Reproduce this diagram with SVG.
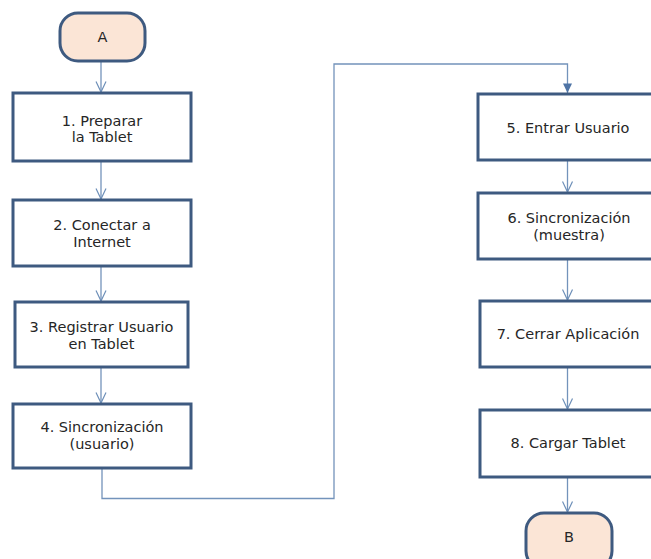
<svg xmlns="http://www.w3.org/2000/svg" width="651" height="559" viewBox="0 0 651 559">
  <defs>
    <marker id="open" viewBox="0 0 12 12" refX="11.5" refY="6" markerWidth="12" markerHeight="12" markerUnits="userSpaceOnUse" orient="auto">
      <path d="M1,1 L11.5,6 L1,11" fill="none" stroke="#6d8fb8" stroke-width="1.2"/>
    </marker>
    <marker id="solid" viewBox="0 0 10 10" refX="10" refY="5" markerWidth="10" markerHeight="10" markerUnits="userSpaceOnUse" orient="auto">
      <path d="M0.5,0.5 L10,5 L0.5,9.5 Z" fill="#4f74a5"/>
    </marker>
    <style>
      .box { fill: #ffffff; stroke: #3e5a80; stroke-width: 3; }
      .term { fill: #fbe5d6; stroke: #3e5a80; stroke-width: 3; }
      .lbl { font-family: "DejaVu Sans", Verdana, sans-serif; font-size: 14.5px; fill: #262626; text-anchor: middle; }
      .flow { fill: none; stroke: #7393bb; stroke-width: 1.3; }
    </style>
  </defs>
  <rect width="651" height="559" fill="#ffffff"/>

  <!-- connectors -->
  <g id="connectors">
    <line class="flow" x1="101" y1="61" x2="101" y2="92" marker-end="url(#open)"/>
    <line class="flow" x1="101" y1="162" x2="101" y2="199" marker-end="url(#open)"/>
    <line class="flow" x1="101" y1="267" x2="101" y2="301" marker-end="url(#open)"/>
    <line class="flow" x1="101" y1="368" x2="101" y2="403" marker-end="url(#open)"/>
    <polyline class="flow" points="102,469 102,498.5 334,498.5 334,64 567.5,64 567.5,93" marker-end="url(#solid)"/>
    <line class="flow" x1="567.5" y1="161" x2="567.5" y2="192" marker-end="url(#open)"/>
    <line class="flow" x1="567.5" y1="260" x2="567.5" y2="300" marker-end="url(#open)"/>
    <line class="flow" x1="567.5" y1="368" x2="567.5" y2="409" marker-end="url(#open)"/>
    <line class="flow" x1="567.5" y1="478" x2="567.5" y2="512" marker-end="url(#open)"/>
  </g>

  <!-- start terminal -->
  <g id="term-A">
    <rect class="term" x="60" y="13" width="85" height="48" rx="18"/>
    <text class="lbl" x="102.5" y="42">A</text>
  </g>

  <!-- left column -->
  <g id="step-1">
    <rect class="box" x="13" y="93" width="178" height="68"/>
    <text class="lbl" x="102" y="126">1. Preparar</text>
    <text class="lbl" x="102" y="142">la Tablet</text>
  </g>
  <g id="step-2">
    <rect class="box" x="13" y="200" width="178" height="66"/>
    <text class="lbl" x="102" y="230">2. Conectar a</text>
    <text class="lbl" x="102" y="247">Internet</text>
  </g>
  <g id="step-3">
    <rect class="box" x="15" y="302" width="173" height="65"/>
    <text class="lbl" x="101.5" y="332">3. Registrar Usuario</text>
    <text class="lbl" x="101.5" y="349">en Tablet</text>
  </g>
  <g id="step-4">
    <rect class="box" x="13" y="404" width="178" height="64"/>
    <text class="lbl" x="102" y="432">4. Sincronización</text>
    <text class="lbl" x="102" y="449">(usuario)</text>
  </g>

  <!-- right column -->
  <g id="step-5">
    <rect class="box" x="478" y="94" width="185" height="66"/>
    <text class="lbl" x="568" y="133">5. Entrar Usuario</text>
  </g>
  <g id="step-6">
    <rect class="box" x="478" y="193" width="185" height="66"/>
    <text class="lbl" x="569" y="223">6. Sincronización</text>
    <text class="lbl" x="569" y="240">(muestra)</text>
  </g>
  <g id="step-7">
    <rect class="box" x="480" y="301" width="183" height="66"/>
    <text class="lbl" x="568" y="339">7. Cerrar Aplicación</text>
  </g>
  <g id="step-8">
    <rect class="box" x="480" y="410" width="183" height="67"/>
    <text class="lbl" x="568" y="448">8. Cargar Tablet</text>
  </g>

  <!-- end terminal -->
  <g id="term-B">
    <rect class="term" x="526" y="513" width="86" height="56" rx="18"/>
    <text class="lbl" x="569" y="542">B</text>
  </g>
</svg>
